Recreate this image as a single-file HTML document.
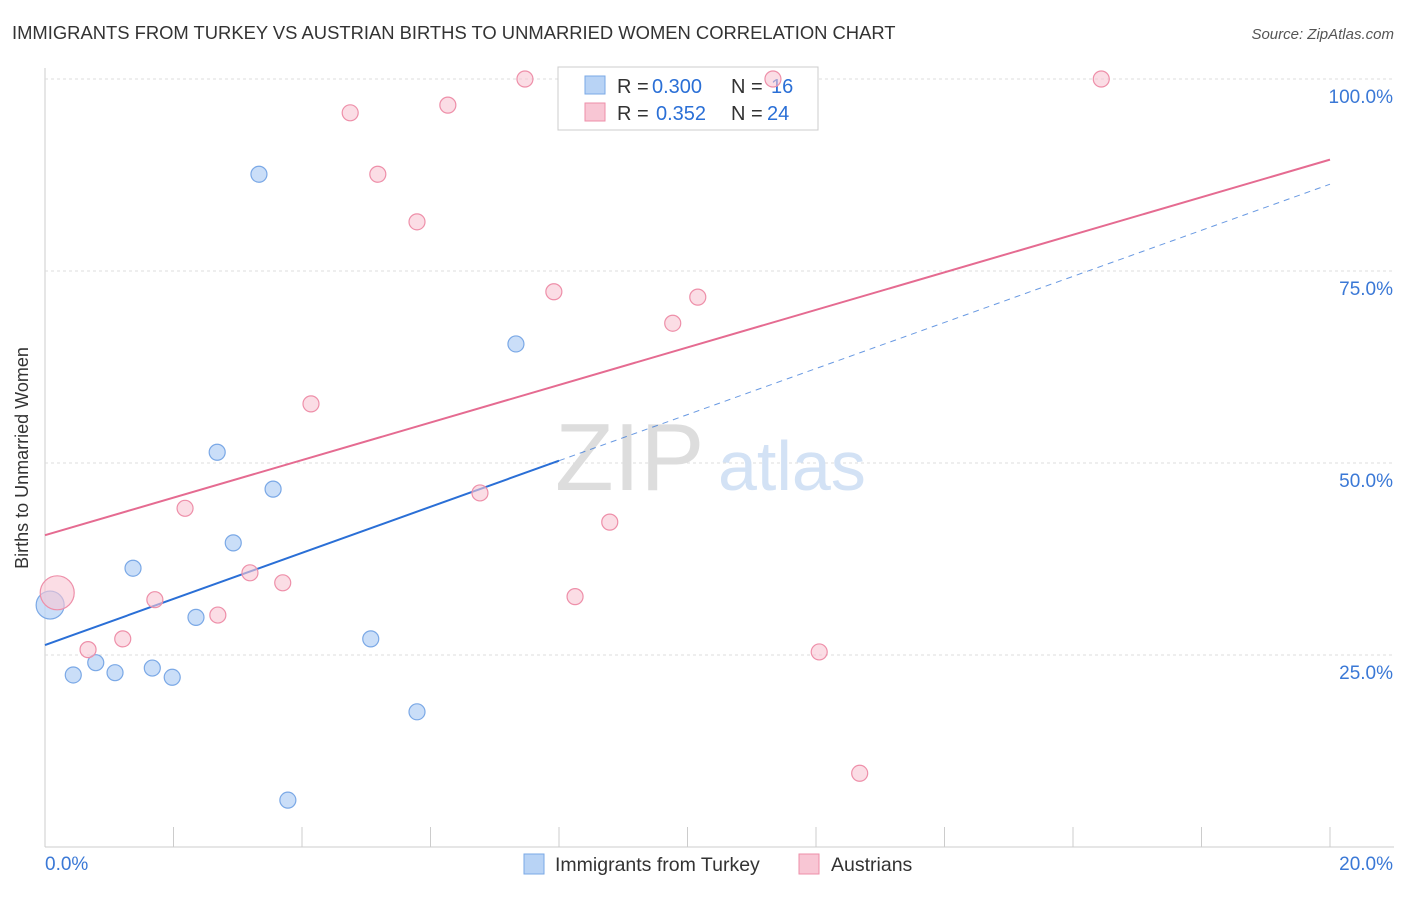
<!DOCTYPE html>
<html><head><meta charset="utf-8"><style>
body{margin:0;background:#fff;font-family:"Liberation Sans",sans-serif}
svg text{font-family:"Liberation Sans",sans-serif}
</style></head><body>
<svg width="1406" height="892" id="chart">
<text x="12" y="39" font-size="18.4" fill="#333">IMMIGRANTS FROM TURKEY VS AUSTRIAN BIRTHS TO UNMARRIED WOMEN CORRELATION CHART</text>
<text x="1394" y="39" font-size="15" fill="#555" text-anchor="end" font-style="italic">Source: ZipAtlas.com</text>
<text x="28" y="458" font-size="18" fill="#333" text-anchor="middle" transform="rotate(-90 28 458)">Births to Unmarried Women</text>
<g id="grid"></g>
<text x="555" y="490" font-size="96" fill="#ddd" font-family="Liberation Serif">ZIP</text>
<text x="718" y="490" font-size="70" fill="#d3e2f5">atlas</text>
<g id="lines"></g>
<g>
<rect x="558" y="67" width="260" height="63" fill="#fff" stroke="#ccc"/>
<rect x="585" y="76" width="20" height="18" fill="#b8d3f5" stroke="#7aa8e6"/>
<text x="617" y="93" font-size="20" fill="#333">R =</text>
<text x="652" y="93" font-size="20" fill="#2a6fd6">0.300</text>
<text x="731" y="93" font-size="20" fill="#333">N =</text>
<text x="771" y="93" font-size="20" fill="#2a6fd6">16</text>
<rect x="585" y="103" width="20" height="18" fill="#f8c6d4" stroke="#ee8fa9"/>
<text x="617" y="120" font-size="20" fill="#333">R =</text>
<text x="656" y="120" font-size="20" fill="#2a6fd6">0.352</text>
<text x="731" y="120" font-size="20" fill="#333">N =</text>
<text x="767" y="120" font-size="20" fill="#2a6fd6">24</text>
</g>
<g id="points"></g>
<g>
<rect x="524" y="854" width="20" height="20" fill="#b8d3f5" stroke="#7aa8e6"/>
<text x="555" y="871" font-size="19.5" fill="#333">Immigrants from Turkey</text>
<rect x="799" y="854" width="20" height="20" fill="#f8c6d4" stroke="#ee8fa9"/>
<text x="831" y="871" font-size="19.5" fill="#333">Austrians</text>
</g>
</svg>
<script>
const blueX=[0.08,0.44,0.79,1.09,1.37,1.67,1.98,2.35,2.68,2.93,3.33,3.55,3.78,5.07,5.79,7.33];
const blueY=[31.5,22.4,24.0,22.7,36.3,23.3,22.1,29.9,51.4,39.6,87.6,46.6,6.1,27.1,17.6,65.5];
const pinkX=[0.19,0.67,1.21,1.71,2.18,2.69,3.19,3.70,4.14,4.75,5.18,5.79,6.27,6.77,7.47,7.92,8.25,8.79,9.77,10.16,11.33,12.05,12.68,16.44];
const pinkY=[33.1,25.7,27.1,32.2,44.1,30.2,35.7,34.4,57.7,95.6,87.6,81.4,96.6,46.1,100,72.3,32.6,42.3,68.2,71.6,100,25.4,9.6,100];
const blueLine=[26.3,50.3];
const pinkLine=[40.6,89.5];
const yTicks=[25,50,75,100];
const yTickLabels=["25.0%","50.0%","75.0%","100.0%"];
const xTicks=[0,2,4,6,8,10,12,14,16,18,20];
const NS="http://www.w3.org/2000/svg";
const sx=v=>45+v*64.25, sy=v=>847-v*7.68;
function mk(t,a,p){const e=document.createElementNS(NS,t);for(const k in a)e.setAttribute(k,a[k]);p.appendChild(e);return e;}
const grid=document.getElementById('grid');
mk('line',{x1:45,y1:68,x2:45,y2:847,stroke:'#ccc'},grid);
mk('line',{x1:45,y1:847,x2:1394,y2:847,stroke:'#ccc'},grid);
yTicks.forEach((t,i)=>{
 const g=mk('line',{x1:45,y1:sy(t),x2:1394,y2:sy(t),stroke:'#ddd','stroke-dasharray':'3,3'},grid);
 
 
 const tx=mk('text',{x:1393,y:sy(t)+24,'font-size':19,fill:'#3a78d6','text-anchor':'end'},grid);
 tx.textContent=yTickLabels[i];
 
 
});
xTicks.forEach(t=>{
 const l=mk('line',{x1:sx(t),y1:827,x2:sx(t),y2:847,stroke:'#ccc'},grid);
 
 
});
const xl0=mk('text',{x:45,y:870,'font-size':19,fill:'#3a78d6'},grid);xl0.textContent='0.0%';


const xl1=mk('text',{x:1393,y:870,'font-size':19,fill:'#3a78d6','text-anchor':'end'},grid);xl1.textContent='20.0%';


const lines=document.getElementById('lines');
const bs=(blueLine[1]-blueLine[0])/8;
const b1=mk('line',{x1:sx(0),y1:sy(blueLine[0]),x2:sx(8),y2:sy(blueLine[1]),stroke:'#2a6fd6','stroke-width':2},lines);


const b2=mk('line',{x1:sx(8),y1:sy(blueLine[1]),x2:sx(20),y2:sy(blueLine[0]+bs*20),stroke:'#2a6fd6','stroke-width':1,'stroke-dasharray':'6,5',opacity:0.7},lines);


const p1=mk('line',{x1:sx(0),y1:sy(pinkLine[0]),x2:sx(20),y2:sy(pinkLine[1]),stroke:'#e56b91','stroke-width':2},lines);


const pts=document.getElementById('points');
blueX.forEach((x,i)=>{
 const c=mk('circle',{cx:sx(x),cy:sy(blueY[i]),r:i===0?14:8,fill:'#b8d3f5','fill-opacity':0.75,stroke:'#7aa8e6','stroke-width':1.2},pts);
 
 
});
pinkX.forEach((x,i)=>{
 const c=mk('circle',{cx:sx(x),cy:sy(pinkY[i]),r:i===0?17:8,fill:'#f8c6d4','fill-opacity':0.6,stroke:'#ee8fa9','stroke-width':1.2},pts);
 
 
});
</script>
</body></html>
